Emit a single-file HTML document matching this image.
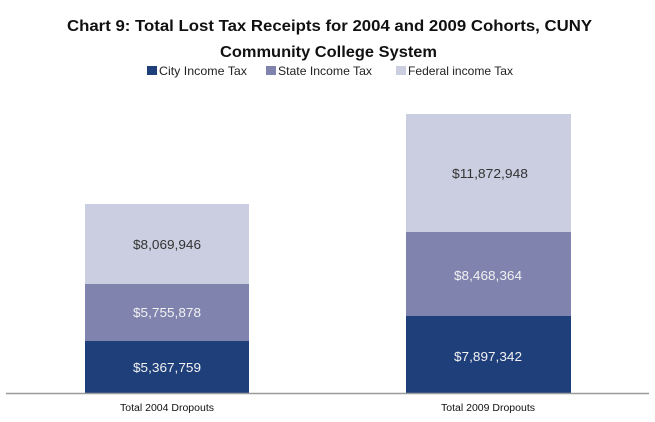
<!DOCTYPE html>
<html><head><meta charset="utf-8"><style>
html,body{margin:0;padding:0;background:#fff;}
svg{display:block;}
</style></head><body>
<svg width="655" height="422" viewBox="0 0 655 422" xmlns="http://www.w3.org/2000/svg" font-family="Liberation Sans, sans-serif">
<rect width="655" height="422" fill="#fff"/>
<text x="67" y="31" font-size="16" font-weight="bold" fill="#111" textLength="525" lengthAdjust="spacingAndGlyphs">Chart 9: Total Lost Tax Receipts for 2004 and 2009 Cohorts, CUNY</text>
<text x="220" y="57" font-size="16" font-weight="bold" fill="#111" textLength="217" lengthAdjust="spacingAndGlyphs">Community College System</text>
<rect x="147" y="66" width="10" height="9" fill="#1F3F7A"/>
<text x="159" y="75" font-size="12" fill="#222" textLength="88" lengthAdjust="spacingAndGlyphs">City Income Tax</text>
<rect x="266" y="66" width="10" height="9" fill="#7F83AE"/>
<text x="278" y="75" font-size="12" fill="#222" textLength="94" lengthAdjust="spacingAndGlyphs">State Income Tax</text>
<rect x="396" y="66" width="10" height="9" fill="#CBCEE0"/>
<text x="408" y="75" font-size="12" fill="#222" textLength="105" lengthAdjust="spacingAndGlyphs">Federal income Tax</text>
<rect x="85" y="204" width="164" height="80" fill="#CBCEE0"/>
<rect x="85" y="284" width="164" height="57" fill="#7F83AE"/>
<rect x="85" y="341" width="164" height="52" fill="#1F3F7A"/>
<rect x="406" y="114" width="165" height="118" fill="#CBCEE0"/>
<rect x="406" y="232" width="165" height="84" fill="#7F83AE"/>
<rect x="406" y="316" width="165" height="77" fill="#1F3F7A"/>
<line x1="6" y1="393.5" x2="649" y2="393.5" stroke="#9a9a9a" stroke-width="1.5"/>
<g font-size="12.5">
<text x="133" y="249" fill="#333" textLength="68" lengthAdjust="spacingAndGlyphs">$8,069,946</text>
<text x="133" y="317" fill="#f2f2f2" textLength="68" lengthAdjust="spacingAndGlyphs">$5,755,878</text>
<text x="133" y="372" fill="#f2f2f2" textLength="68" lengthAdjust="spacingAndGlyphs">$5,367,759</text>
<text x="452" y="178" fill="#333" textLength="76" lengthAdjust="spacingAndGlyphs">$11,872,948</text>
<text x="454" y="280" fill="#f2f2f2" textLength="68" lengthAdjust="spacingAndGlyphs">$8,468,364</text>
<text x="454" y="361" fill="#f2f2f2" textLength="68" lengthAdjust="spacingAndGlyphs">$7,897,342</text>
</g>
<g font-size="10" fill="#111">
<text x="120" y="411" textLength="94" lengthAdjust="spacingAndGlyphs">Total 2004 Dropouts</text>
<text x="441" y="411" textLength="94" lengthAdjust="spacingAndGlyphs">Total 2009 Dropouts</text>
</g>
</svg>
</body></html>
